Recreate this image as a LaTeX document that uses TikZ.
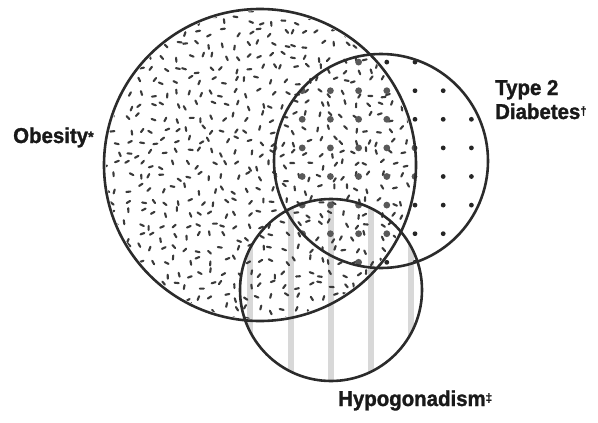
\documentclass[tikz,border=0pt]{standalone}
\usepackage{fontspec}
\setmainfont{Liberation Sans}
\newfontfamily\labfont{Liberation Sans Bold}[FakeBold=1.3,FakeStretch=0.95]
\definecolor{ink}{HTML}{2B2B2B}
\definecolor{speckc}{HTML}{3A3A3A}
\definecolor{stripec}{HTML}{D8D8D8}
\begin{document}
\begin{tikzpicture}[x=1pt,y=-1pt,
  ring/.style={draw=ink,line width=2.6pt},
  speck/.style={draw=speckc,line width=2.1pt,line cap=round},
  stripe/.style={fill=stripec},
  dotsm/.style={fill=black!85},
  dotbig/.style={fill=black!65},
  lab/.style={inner sep=0pt,font=\labfont\fontsize{21.5}{24}\selectfont,text=black!90}]
\useasboundingbox (0,0) rectangle (598,423);
\coordinate (ob) at (260,165);
\coordinate (db) at (381,161);
\coordinate (hg) at (331,290);
% hypogonadism stripes
\begin{scope}
  \clip (hg) circle (91pt);
  \foreach \x in {250,291,331,371,411}
    \fill[stripe] (\x-2.6,190) rectangle (\x+2.6,390);
\end{scope}
% obesity specks
\pgfmathsetseed{7}
\begin{scope}
  \clip (ob) circle (154pt);
  \foreach \i in {0,...,26}{
    \foreach \j in {0,...,26}{
      \pgfmathsetmacro{\px}{104+\i*12+rand*4.2}
      \pgfmathsetmacro{\py}{9+\j*12+rand*4.2}
      \pgfmathsetmacro{\ang}{rnd*180}
      \draw[speck] (\px,\py) ++(\ang:2) -- ++(\ang+180:4);
    }}
\end{scope}
% diabetes dots
\begin{scope}
  \clip (db) circle (106pt);
  \foreach \i in {0,...,8}{
    \foreach \j in {0,...,8}{
      \fill[dotsm] (274+\i*28.2,33.5+\j*28.6) circle (2.4pt);
    }}
  \clip (ob) circle (155pt);
  \foreach \i in {0,...,8}{
    \foreach \j in {0,...,8}{
      \fill[dotbig] (274+\i*28.2,33.5+\j*28.6) circle (3.4pt);
    }}
\end{scope}
% outlines
\draw[ring] (ob) circle (156pt);
\draw[ring] (db) circle (107pt);
\draw[ring] (hg) circle (91pt);
% labels
\node[lab,anchor=base west] (lob) at (13,143) {Obesity\raisebox{1pt}{\fontsize{15}{15}\selectfont *}};
\node[lab,anchor=base west] (ldb1) at (495,95) {Type 2};
\node[lab,anchor=base west] (ldb2) at (495,119) {Diabetes\raisebox{4pt}{\fontsize{12}{12}\selectfont †}};
\node[lab,anchor=base west] (lhg) at (338,406) {Hypogonadism\raisebox{4pt}{\fontsize{12}{12}\selectfont ‡}};
\end{tikzpicture}
\end{document}
